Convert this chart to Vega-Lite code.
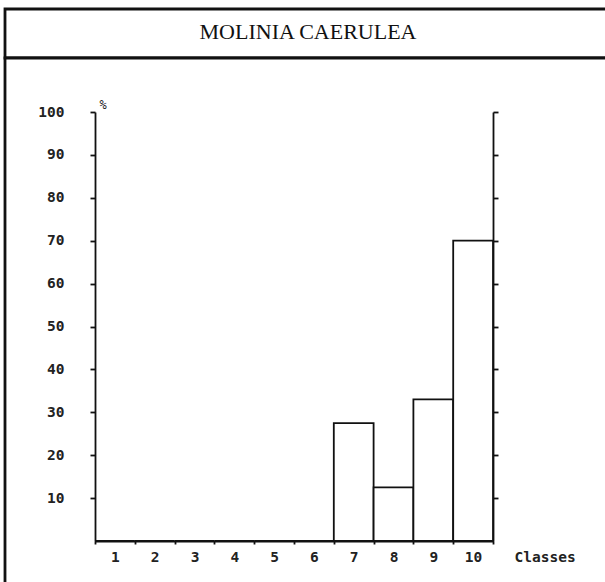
{
  "$schema": "https://vega.github.io/schema/vega-lite/v6.json",
  "autosize": {"type": "pad"},
  "padding": {"left": 3, "top": 7, "right": -7, "bottom": -10},
  "background": "white",
  "spacing": 0,
  "bounds": "flush",
  "config": {
    "axis": {
      "domainColor": "#111",
      "tickColor": "#111",
      "labelColor": "#222",
      "titleColor": "#222",
      "labelFont": "DejaVu Sans Mono",
      "labelFontWeight": "bold",
      "labelFontSize": 14.5,
      "grid": false,
      "domainWidth": 1.8,
      "tickWidth": 1.8
    }
  },
  "vconcat": [
    {
      "width": 606,
      "height": 49,
      "view": {"stroke": "#111", "strokeWidth": 2.8, "fill": "white"},
      "data": {"values": [{"species": "MOLINIA CAERULEA"}]},
      "mark": {"type": "text", "font": "Liberation Serif", "fontSize": 22, "color": "#111", "dy": -2},
      "encoding": {"text": {"field": "species", "type": "nominal"}}
    },
    {
      "width": 606,
      "height": 533,
      "view": {"stroke": "#111", "strokeWidth": 2.8, "fill": "white"},
      "data": {
        "values": [
          {"class": 1, "pct": 0},
          {"class": 2, "pct": 0},
          {"class": 3, "pct": 0},
          {"class": 4, "pct": 0},
          {"class": 5, "pct": 0},
          {"class": 6, "pct": 0},
          {"class": 7, "pct": 27.5},
          {"class": 8, "pct": 12.5},
          {"class": 9, "pct": 33},
          {"class": 10, "pct": 70}
        ]
      },
      "encoding": {
        "x": {
          "field": "class",
          "type": "ordinal",
          "scale": {"range": [90, 488], "paddingInner": 0, "paddingOuter": 0},
          "axis": {
            "orient": "bottom",
            "offset": -50,
            "labelAngle": 0,
            "tickBand": "extent",
            "tickSize": 3,
            "labelPadding": 6,
            "title": "Classes",
            "titleX": 509,
            "titleY": 16,
            "titleAlign": "left",
            "titleBaseline": "middle",
            "titleFont": "DejaVu Sans Mono",
            "titleFontWeight": "bold",
            "titleFontSize": 14.5
          }
        }
      },
      "layer": [
        {
          "mark": {"type": "bar", "fill": "white", "stroke": "#111", "strokeWidth": 1.8},
          "encoding": {
            "y": {
              "field": "pct",
              "type": "quantitative",
              "scale": {"domain": [0, 100], "range": [483, 54], "nice": false, "zero": true},
              "axis": {
                "orient": "left",
                "offset": -90,
                "values": [10, 20, 30, 40, 50, 60, 70, 80, 90, 100],
                "tickSize": 5,
                "labelPadding": 26,
                "title": "%",
                "titleAngle": 0,
                "titleX": 4,
                "titleY": 46,
                "titleAlign": "left",
                "titleBaseline": "middle",
                "titleFont": "DejaVu Sans Mono",
                "titleFontWeight": "normal",
                "titleFontSize": 12
              }
            }
          }
        },
        {
          "mark": {"type": "bar", "opacity": 0},
          "encoding": {
            "y": {
              "field": "pct",
              "type": "quantitative",
              "scale": {"domain": [0, 100], "range": [483, 54], "nice": false, "zero": true},
              "axis": {
                "orient": "right",
                "offset": -118,
                "values": [10, 20, 30, 40, 50, 60, 70, 80, 90, 100],
                "tickSize": 5,
                "labels": false,
                "title": null
              }
            }
          }
        }
      ],
      "resolve": {"axis": {"y": "independent"}}
    }
  ]
}
